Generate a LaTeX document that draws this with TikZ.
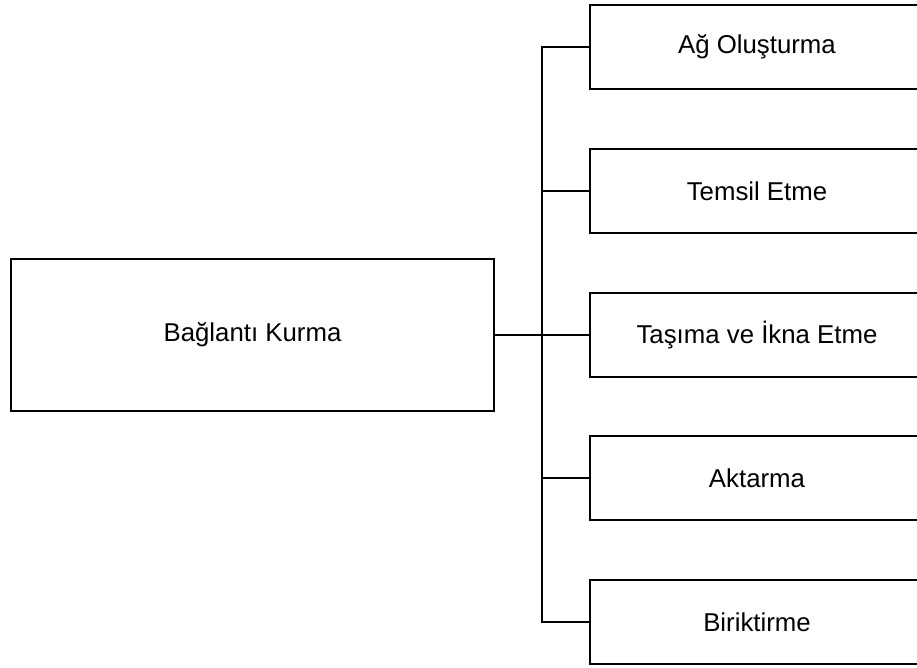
\documentclass[tikz,border=0pt]{standalone}
\usepackage{fontspec}
\setmainfont{Liberation Sans}
\begin{document}
\begin{tikzpicture}[x=0.5pt,y=-0.5pt,
  box/.style={draw=black, line width=1pt, fill=white, inner sep=0pt,
    font=\fontsize{12.9}{15}\selectfont},
  mainbox/.style={box, minimum width=241.5pt, minimum height=76pt},
  leafbox/.style={box, minimum width=167pt, minimum height=42pt},
  link/.style={draw=black, line width=1pt},
  mainlink/.style={draw=black, line width=1.4pt}]
  \useasboundingbox (0,0) rectangle (917,668);
  \clip (0,0) rectangle (917,668);

  % root box
  \node[mainbox] (root) at (252.5,335) {Bağlantı Kurma};

  % leaf boxes, right edges run past the page
  \node[leafbox] (b1) at (757,47)  {Ağ Oluşturma};
  \node[leafbox] (b2) at (757,191) {Temsil Etme};
  \node[leafbox] (b3) at (757,335) {Taşıma ve İkna Etme};
  \node[leafbox] (b4) at (757,478) {Aktarma};
  \node[leafbox] (b5) at (757,622) {Biriktirme};

  % trunk position
  \coordinate (trunk) at (542,335);

  % connectors
  \draw[mainlink] (root.east) -- (root.east -| trunk);
  \draw[link] (b1.west) -- (b1.west -| trunk) -- (b5.west -| trunk) -- (b5.west);
  \draw[link] (b2.west) -- (b2.west -| trunk);
  \draw[link] (b3.west) -- (b3.west -| trunk);
  \draw[link] (b4.west) -- (b4.west -| trunk);
\end{tikzpicture}
\end{document}
